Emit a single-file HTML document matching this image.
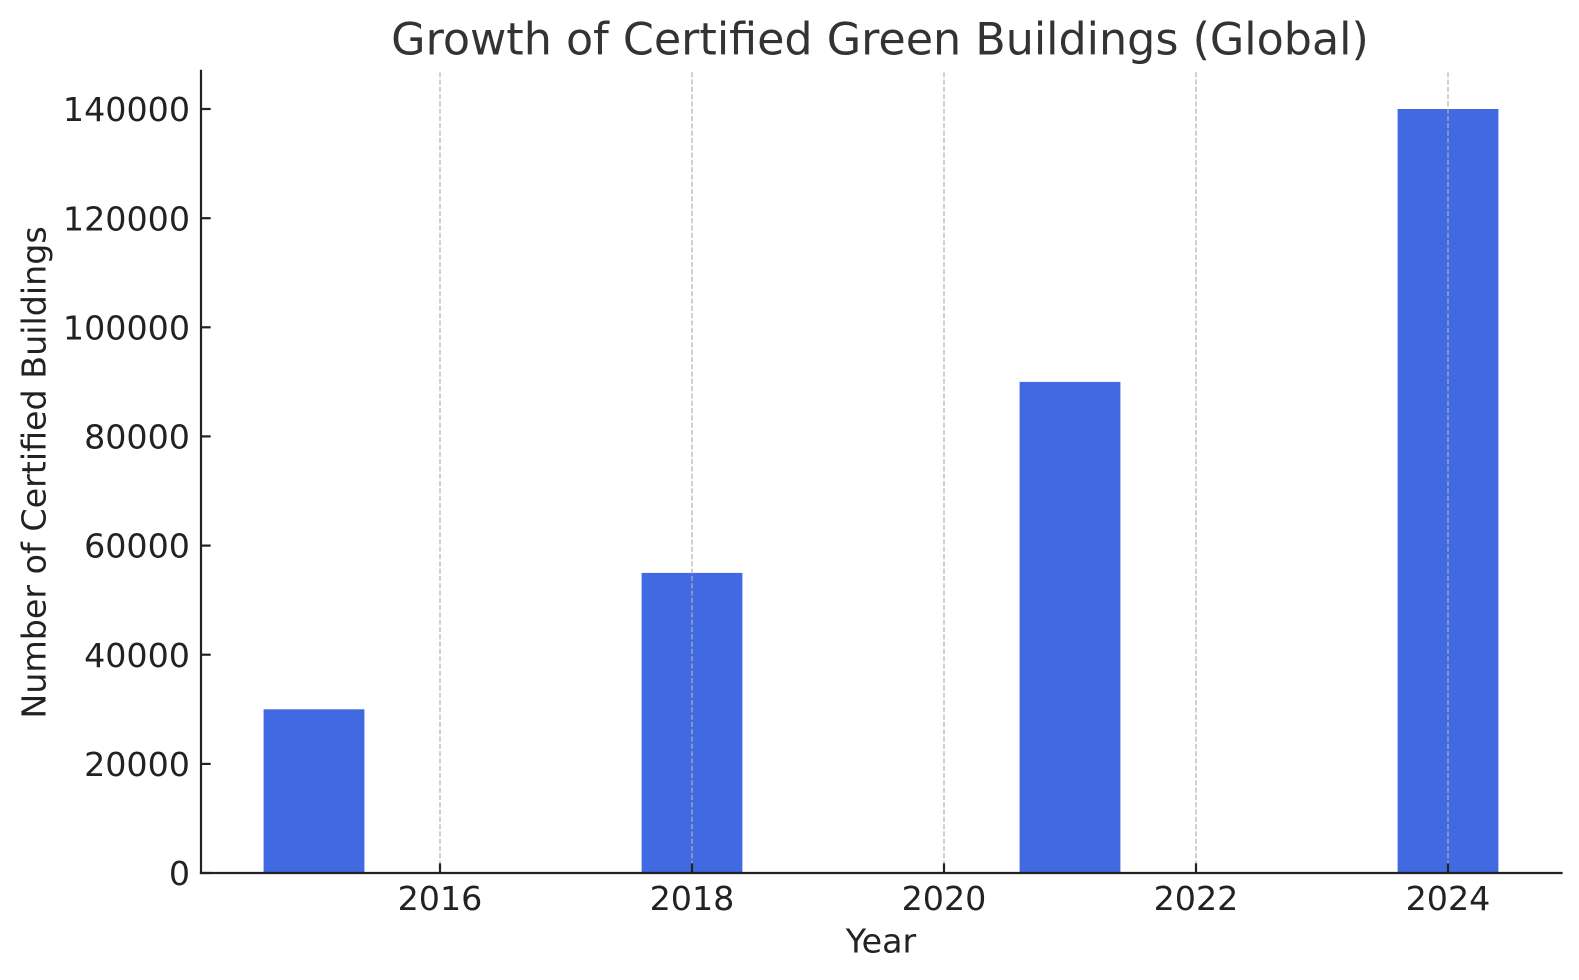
<!DOCTYPE html>
<html>
<head>
<meta charset="utf-8">
<style>
  html, body { margin: 0; padding: 0; background: #ffffff; }
  svg { display: block; }
  text { font-family: "DejaVu Sans", "Liberation Sans", sans-serif; }
</style>
</head>
<body>
<svg width="1579" height="980" viewBox="0 0 1579 980" xmlns="http://www.w3.org/2000/svg">
  <rect x="0" y="0" width="1579" height="980" fill="#ffffff"/>

  <!-- Title -->
  <text x="880" y="54.3" font-size="44.4" fill="#333333" text-anchor="middle">Growth of Certified Green Buildings (Global)</text>

  <!-- Bars -->
  <g fill="#4169E1">
    <rect x="263.6" y="709.3" width="100.8" height="163.7"/>
    <rect x="641.6" y="572.9" width="100.8" height="300.1"/>
    <rect x="1019.6" y="381.9" width="100.8" height="491.1"/>
    <rect x="1397.6" y="109.0" width="100.8" height="764.0"/>
  </g>

  <!-- Vertical dashed grid lines (drawn above bars) -->
  <g stroke="#b0b0b0" stroke-opacity="0.7" stroke-width="1.7" stroke-dasharray="5.1 2.2">
    <line x1="440" y1="873" x2="440" y2="70.8"/>
    <line x1="692" y1="873" x2="692" y2="70.8"/>
    <line x1="944" y1="873" x2="944" y2="70.8"/>
    <line x1="1196" y1="873" x2="1196" y2="70.8"/>
    <line x1="1448" y1="873" x2="1448" y2="70.8"/>
  </g>

  <!-- Ticks (inward) -->
  <g stroke="#222222" stroke-width="2.2">
    <line x1="201" y1="873" x2="210.7" y2="873"/>
    <line x1="201" y1="763.9" x2="210.7" y2="763.9"/>
    <line x1="201" y1="654.7" x2="210.7" y2="654.7"/>
    <line x1="201" y1="545.6" x2="210.7" y2="545.6"/>
    <line x1="201" y1="436.4" x2="210.7" y2="436.4"/>
    <line x1="201" y1="327.3" x2="210.7" y2="327.3"/>
    <line x1="201" y1="218.2" x2="210.7" y2="218.2"/>
    <line x1="201" y1="109.0" x2="210.7" y2="109.0"/>
    <line x1="440" y1="873" x2="440" y2="863.3"/>
    <line x1="692" y1="873" x2="692" y2="863.3"/>
    <line x1="944" y1="873" x2="944" y2="863.3"/>
    <line x1="1196" y1="873" x2="1196" y2="863.3"/>
    <line x1="1448" y1="873" x2="1448" y2="863.3"/>
  </g>

  <!-- Spines -->
  <g stroke="#222222" stroke-width="2.2" stroke-linecap="square">
    <line x1="201" y1="70.8" x2="201" y2="873"/>
    <line x1="201" y1="873" x2="1561.5" y2="873"/>
  </g>

  <!-- Y tick labels -->
  <g font-size="33.3" fill="#222222" text-anchor="end">
    <text x="190" y="885.1">0</text>
    <text x="190" y="776.0">20000</text>
    <text x="190" y="666.8">40000</text>
    <text x="190" y="557.7">60000</text>
    <text x="190" y="448.5">80000</text>
    <text x="190" y="339.4">100000</text>
    <text x="190" y="230.3">120000</text>
    <text x="190" y="121.1">140000</text>
  </g>

  <!-- X tick labels -->
  <g font-size="33.3" fill="#222222" text-anchor="middle">
    <text x="440" y="910">2016</text>
    <text x="692" y="910">2018</text>
    <text x="944" y="910">2020</text>
    <text x="1196" y="910">2022</text>
    <text x="1448" y="910">2024</text>
  </g>

  <!-- Axis labels -->
  <text x="881" y="952.7" font-size="33.3" fill="#222222" text-anchor="middle">Year</text>
  <text transform="translate(45.5,472.5) rotate(-90)" font-size="33.3" fill="#222222" text-anchor="middle">Number of Certified Buildings</text>
</svg>
</body>
</html>
